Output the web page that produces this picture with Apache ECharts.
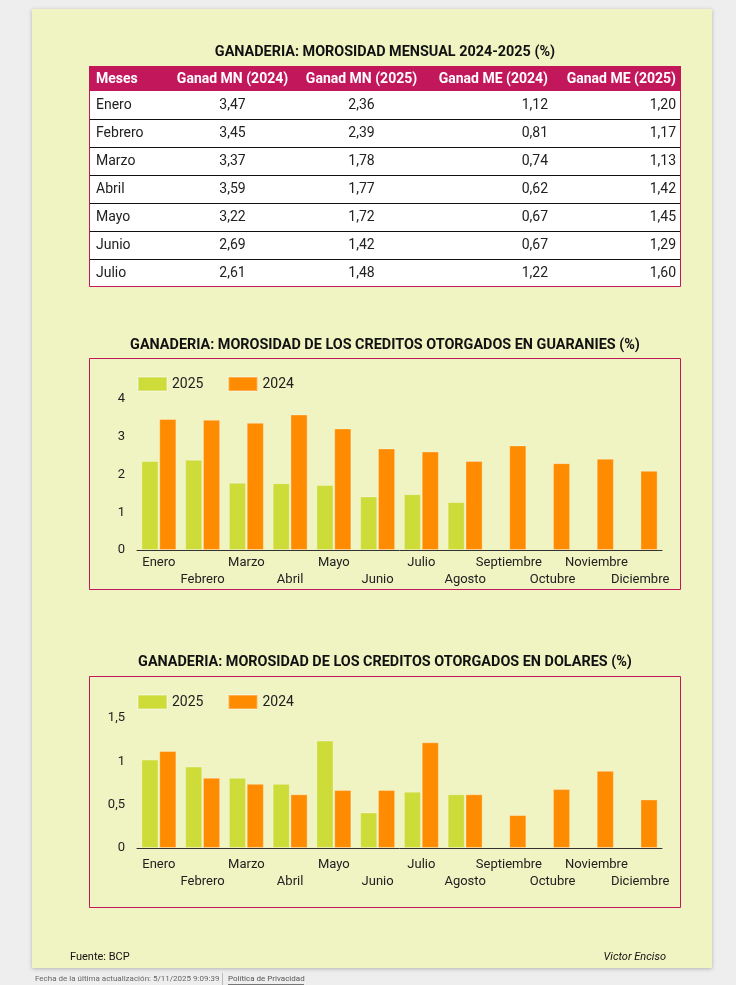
<!DOCTYPE html>
<html><head><meta charset="utf-8">
<script src="https://cdn.jsdelivr.net/npm/echarts@6/dist/echarts.min.js"></script>
<style>html,body{margin:0;padding:0;background:#eeeeee;}#main{width:736px;height:985px;}</style>
</head><body><div id="main"></div>
<script>
// ---- data ----
const months = ['Enero','Febrero','Marzo','Abril','Mayo','Junio','Julio','Agosto','Septiembre','Octubre','Noviembre','Diciembre'];
const tableHeaders = ['Meses','Ganad MN (2024)','Ganad MN (2025)','Ganad ME (2024)','Ganad ME (2025)'];
const tableMonths = ['Enero','Febrero','Marzo','Abril','Mayo','Junio','Julio'];
const tblMN2024 = [3.47,3.45,3.37,3.59,3.22,2.69,2.61];
const tblMN2025 = [2.36,2.39,1.78,1.77,1.72,1.42,1.48];
const tblME2024 = [1.12,0.81,0.74,0.62,0.67,0.67,1.22];
const tblME2025 = [1.20,1.17,1.13,1.42,1.45,1.29,1.60];
const gsSeries2025 = [2.36,2.39,1.78,1.77,1.72,1.42,1.48,1.27];
const gsSeries2024 = [3.47,3.45,3.37,3.59,3.22,2.69,2.61,2.36,2.77,2.30,2.42,2.10];
const usdSeries2025 = [1.02,0.94,0.81,0.74,1.24,0.41,0.65,0.62];
const usdSeries2024 = [1.12,0.81,0.74,0.62,0.67,0.67,1.22,0.62,0.38,0.68,0.89,0.56];
const legendNames = ['2025','2024'];
const gsAxis = {max: 4, interval: 1};
const usdAxis = {max: 1.5, interval: 0.5};

// ---- styling ----
const FONT = 'Roboto';
const GREEN = '#cddc39', ORANGE = '#ff8c00', CRIMSON = '#c2185b', CARD = '#f0f4c3';
const fmt2 = v => v.toFixed(2).replace('.', ',');
const fmtAxis = v => String(v).replace('.', ',');

const graphic = [];
// card
graphic.push({type:'rect', shape:{x:32,y:9,width:680,height:959}, style:{fill:CARD, shadowBlur:4, shadowOffsetY:1, shadowColor:'rgba(0,0,0,0.25)'}, z:-10});
// titles
const titles = [
  ['GANADERIA: MOROSIDAD MENSUAL 2024-2025 (%)', 52],
  ['GANADERIA: MOROSIDAD DE LOS CREDITOS OTORGADOS EN GUARANIES (%)', 345],
  ['GANADERIA: MOROSIDAD DE LOS CREDITOS OTORGADOS EN DOLARES (%)', 662]
];
titles.forEach(t => graphic.push({type:'text', x:385, y:t[1], style:{text:t[0], font:'bold 14.4px '+FONT, fill:'#111', align:'center', verticalAlign:'middle'}}));
// table
const tX0 = 89, tX1 = 681, hY0 = 66, hY1 = 91, rowH = 28;
const nRows = tableMonths.length;
graphic.push({type:'rect', shape:{x:tX0,y:hY1,width:tX1-tX0,height:rowH*nRows}, style:{fill:'#ffffff', stroke:null}});
graphic.push({type:'rect', shape:{x:tX0,y:hY0,width:tX1-tX0,height:hY1-hY0}, style:{fill:CRIMSON}});
for (let i = 1; i < nRows; i++) {
  const y = hY1 + rowH*i + 0.5;
  graphic.push({type:'line', shape:{x1:tX0,y1:y,x2:tX1,y2:y}, style:{stroke:'#111', lineWidth:1}});
}
graphic.push({type:'rect', shape:{x:tX0+0.5,y:hY0+0.5,width:tX1-tX0-1,height:hY1-hY0+rowH*nRows-1}, style:{fill:null, stroke:CRIMSON, lineWidth:1}});
// column anchors: [x, align]
const cols = [[96,'left'],[232.5,'center'],[361.5,'center'],[548,'right'],[676,'right']];
tableHeaders.forEach((h, j) => graphic.push({type:'text', x:cols[j][0], y:(hY0+hY1)/2+0.5, style:{text:h, font:'bold 14px '+FONT, fill:'#ffffff', align:cols[j][1], verticalAlign:'middle'}}));
const colData = [tableMonths, tblMN2024.map(fmt2), tblMN2025.map(fmt2), tblME2024.map(fmt2), tblME2025.map(fmt2)];
for (let i = 0; i < nRows; i++) {
  const y = hY1 + rowH*i + rowH/2;
  colData.forEach((col, j) => graphic.push({type:'text', x:cols[j][0], y:y, style:{text:col[i], font:'14px '+FONT, fill:'#212121', align:cols[j][1], verticalAlign:'middle'}}));
}
// chart boxes
[[358,589],[676,907]].forEach(b => graphic.push({type:'rect', shape:{x:89.5,y:b[0]+0.5,width:591,height:b[1]-b[0]}, style:{fill:null, stroke:CRIMSON, lineWidth:1}}));
// footer
graphic.push({type:'text', x:70, y:957, style:{text:'Fuente: BCP', font:'11px '+FONT, fill:'#111', verticalAlign:'middle'}});
graphic.push({type:'text', x:666, y:957, style:{text:'Victor Enciso', font:'italic 11px '+FONT, fill:'#111', align:'right', verticalAlign:'middle'}});
graphic.push({type:'text', x:35, y:979, style:{text:'Fecha de la última actualización: 5/11/2025 9:09:39', font:'8px '+FONT, fill:'#666', verticalAlign:'middle'}});
graphic.push({type:'line', shape:{x1:222.5,y1:973,x2:222.5,y2:985}, style:{stroke:'#bbb', lineWidth:1}});
graphic.push({type:'text', x:228, y:979, style:{text:'Política de Privacidad', font:'8px '+FONT, fill:'#555', verticalAlign:'middle'}});
graphic.push({type:'line', shape:{x1:228,y1:984.5,x2:304,y2:984.5}, style:{stroke:'#777', lineWidth:1}});

const grids = [
  {left:137, width:525, top:399, height:151},
  {left:137, width:525, top:718, height:130}
];
function xAx(gi, margin){
  return {type:'category', gridIndex:gi, data:months, axisTick:{show:false}, axisLine:{lineStyle:{color:'#333', width:1}},
    axisLabel:{color:'#212121', fontFamily:FONT, fontSize:13, lineHeight:17, margin:margin, interval:0,
      formatter:(v, i) => (i % 2 ? '\n' + v : v)}};
}
function yAx(gi, cfg){ return {type:'value', gridIndex:gi, min:0, max:cfg.max, interval:cfg.interval, splitLine:{show:false}, axisLine:{show:false}, axisTick:{show:false}, axisLabel:{color:'#212121', fontFamily:FONT, fontSize:13, margin:12, formatter:fmtAxis}}; }
function bar(name, data, color, gi){
  return {type:'bar', name:name, xAxisIndex:gi, yAxisIndex:gi, data:data, barCategoryGap:'20%', barGap:'4%',
    itemStyle:{color:color, borderColor:'rgba(255,255,255,0.3)', borderWidth:1}, emphasis:{disabled:true}};
}
const legendBase = {itemWidth:29, itemHeight:14, itemGap:24, padding:0, left:137, icon:'rect', textStyle:{fontFamily:FONT, fontSize:14, color:'#212121'}, selectedMode:false, data:legendNames};

const chart = echarts.init(document.getElementById('main'), null, {renderer:'canvas', width:736, height:985});
chart.setOption({
  backgroundColor:'#eeeeee',
  animation:false,
  graphic: graphic,
  grid: grids,
  legend: [
    Object.assign({}, legendBase, {top:376}),
    Object.assign({}, legendBase, {top:694})
  ],
  xAxis: [xAx(0, 4), xAx(1, 8)],
  yAxis: [yAx(0, gsAxis), yAx(1, usdAxis)],
  series: [
    bar(legendNames[0], gsSeries2025, GREEN, 0),
    bar(legendNames[1], gsSeries2024, ORANGE, 0),
    bar(legendNames[0], usdSeries2025, GREEN, 1),
    bar(legendNames[1], usdSeries2024, ORANGE, 1)
  ]
});
</script></body></html>
